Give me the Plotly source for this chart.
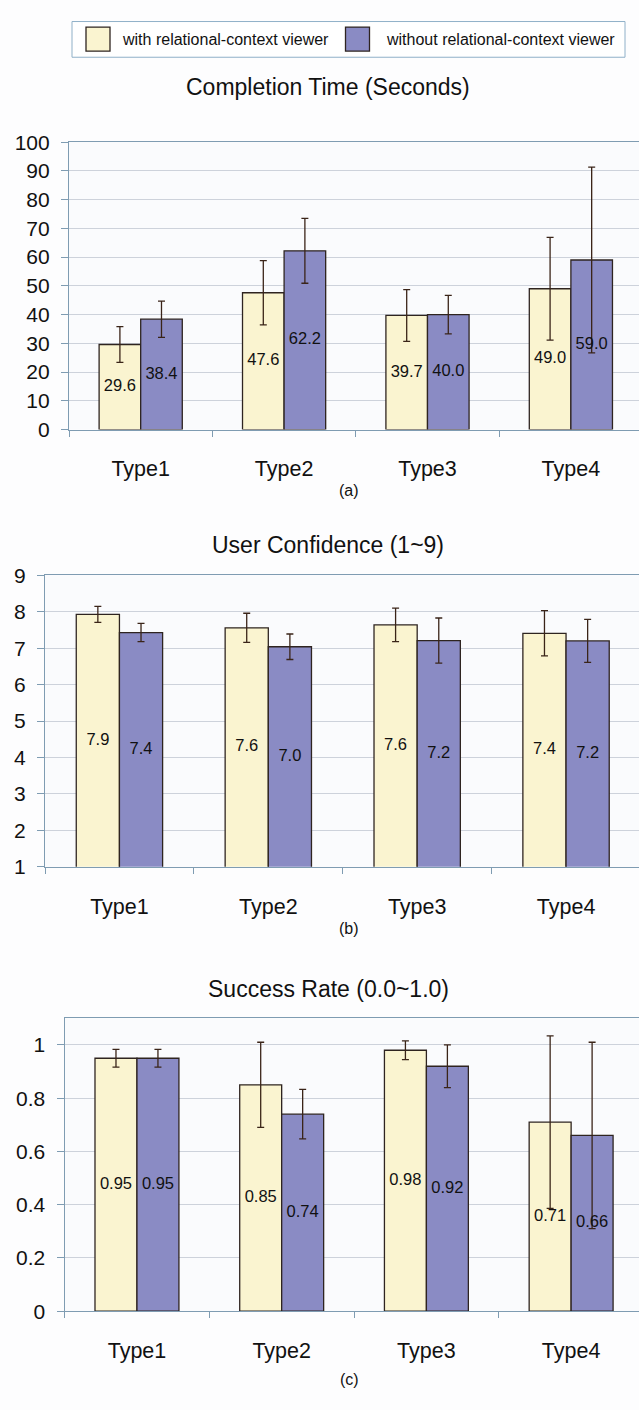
import plotly.graph_objects as go

# ---------------- data ----------------
categories = ["Type1", "Type2", "Type3", "Type4"]
series_names = ["with relational-context viewer", "without relational-context viewer"]

time_with = [29.6, 47.6, 39.7, 49.0]
time_without = [38.4, 62.2, 40.0, 59.0]
time_with_err = [6.2, 11.2, 9.0, 17.9]
time_without_err = [6.3, 11.3, 6.7, 32.3]

conf_with = [7.93, 7.56, 7.64, 7.41]
conf_without = [7.43, 7.04, 7.21, 7.20]
conf_with_err = [0.22, 0.40, 0.46, 0.62]
conf_without_err = [0.25, 0.35, 0.62, 0.59]

succ_with = [0.95, 0.85, 0.98, 0.71]
succ_without = [0.95, 0.74, 0.92, 0.66]
succ_with_err = [0.033, 0.16, 0.035, 0.324]
succ_without_err = [0.033, 0.093, 0.08, 0.35]

titles = ["Completion Time (Seconds)", "User Confidence (1~9)", "Success Rate (0.0~1.0)"]
captions = ["(a)", "(b)", "(c)"]

# ---------------- style / layout ----------------
W, H = 639, 1410
FONT = "Arial, Liberation Sans, Helvetica, sans-serif"
C_WITH = "#FAF4D0"
C_WITHOUT = "#8A8BC4"
OUTLINE = "#2e2420"
ERR = "#3a2418"
AXIS = "#7f9cb2"
GRID = "#cdd2db"
BAR_W = 0.29


def fx(p):
    return p / W


def fy(p):
    return 1 - p / H


panels = [
    dict(data=(time_with, time_without, time_with_err, time_without_err), fmt="{:.1f}",
         left=69, top=132.3, bottom=424.5, yr=[0, 100], tickvals=list(range(0, 101, 10)),
         xr=[-0.5, 3.475], title_y=76.7, cap_y=486),
    dict(data=(conf_with, conf_without, conf_with_err, conf_without_err), fmt="{:.1f}",
         left=45, top=572.7, bottom=869, yr=[1, 9], tickvals=list(range(1, 10)),
         xr=[-0.5, 3.49], title_y=541.7, cap_y=932),
    dict(data=(succ_with, succ_without, succ_with_err, succ_without_err), fmt="{:.2f}",
         left=64.6, top=1023, bottom=1320.7, yr=[0, 1.1], tickvals=[0, 0.2, 0.4, 0.6, 0.8, 1],
         ticktext=["0", "0.2", "0.4", "0.6", "0.8", "1"],
         xr=[-0.5, 3.469], title_y=993, cap_y=1390),
]

fig = go.Figure()
layout = dict(
    width=W, height=H, margin=dict(l=0, r=0, t=0, b=0),
    paper_bgcolor="#fdfdfe", plot_bgcolor="#fafbfd",
    showlegend=False, barmode="overlay",
    font=dict(family=FONT, color="#111111"),
)
annotations = []
shapes = []

xs = list(range(len(categories)))

for k, p in enumerate(panels):
    sfx = "" if k == 0 else str(k + 1)
    xa, ya = "x" + sfx, "y" + sfx
    vw, vwo, ew, ewo = p["data"]
    base = p["yr"][0]
    for vals, errs, col, name, sign in [(vw, ew, C_WITH, series_names[0], -1),
                                        (vwo, ewo, C_WITHOUT, series_names[1], 1)]:
        xpos = [x + sign * BAR_W / 2 for x in xs]
        fig.add_trace(go.Bar(
            x=xpos, y=vals, width=BAR_W, name=name, xaxis=xa, yaxis=ya,
            marker=dict(color=col, line=dict(color=OUTLINE, width=1.3)),
            error_y=dict(type="data", array=errs, visible=True, color=ERR, thickness=1.3, width=3.5),
            showlegend=False,
        ))
        fig.add_trace(go.Scatter(
            x=xpos, y=[(base + v) / 2 for v in vals], mode="text",
            text=[p["fmt"].format(v) for v in vals], xaxis=xa, yaxis=ya,
            textfont=dict(size=16.5, family=FONT, color="#111111"),
            showlegend=False, hoverinfo="skip",
        ))
    layout["xaxis" + sfx] = dict(
        domain=[fx(p["left"]), 1], range=p["xr"], anchor=ya,
        tickvals=xs, ticktext=categories, ticks="",
        tickfont=dict(size=21.5, family=FONT, color="#111111"),
        ticklabelstandoff=20,
        showline=True, linecolor=AXIS, linewidth=1.2, mirror=True,
        showgrid=False, zeroline=False,
        minor=dict(tickvals=[-0.5, 0.5, 1.5, 2.5, 3.5], ticks="outside", ticklen=6,
                   tickcolor=AXIS, tickwidth=1, showgrid=False),
    )
    ya_d = dict(
        domain=[fy(p["bottom"]), fy(p["top"])], range=p["yr"], anchor=xa,
        tickvals=p["tickvals"], ticks="outside", ticklen=7, tickcolor=AXIS, tickwidth=1,
        tickfont=dict(size=21, family=FONT, color="#111111"),
        ticklabelstandoff=7,
        showline=True, linecolor=AXIS, linewidth=1.2,
        showgrid=True, gridcolor=GRID, gridwidth=1, zeroline=False,
    )
    if "ticktext" in p:
        ya_d["ticktext"] = p["ticktext"]
    layout["yaxis" + sfx] = ya_d

    annotations.append(dict(x=fx(328), y=fy(p["title_y"]), xref="paper", yref="paper",
                            text=titles[k], showarrow=False, xanchor="center", yanchor="middle",
                            font=dict(size=23, family=FONT, color="#111111")))
    annotations.append(dict(x=fx(349), y=fy(p["cap_y"]), xref="paper", yref="paper",
                            text=captions[k], showarrow=False, xanchor="center", yanchor="middle",
                            font=dict(size=16, family=FONT, color="#111111")))

# ---------------- legend (drawn) ----------------
shapes.append(dict(type="rect", xref="paper", yref="paper",
                   x0=fx(72), x1=fx(625), y0=fy(46), y1=fy(9.7),
                   line=dict(color="#8fb0c8", width=1), fillcolor="#ffffff", layer="below"))
for (sx0, tx, col, name) in [(86, 120, C_WITH, series_names[0]),
                             (345.5, 384, C_WITHOUT, series_names[1])]:
    shapes.append(dict(type="rect", xref="paper", yref="paper",
                       x0=fx(sx0), x1=fx(sx0 + 24), y0=fy(39.7), y1=fy(15.3),
                       line=dict(color=OUTLINE, width=1.3), fillcolor=col))
    annotations.append(dict(x=fx(tx), y=fy(27.5), xref="paper", yref="paper", text=name,
                            showarrow=False, xanchor="left", yanchor="middle",
                            font=dict(size=16, family=FONT, color="#111111")))

layout["annotations"] = annotations
layout["shapes"] = shapes
fig.update_layout(**layout)
fig.write_html(
    "out.html",
    config={"displayModeBar": False},
    post_script="document.body.style.margin='0px';document.body.style.overflow='hidden';",
)
